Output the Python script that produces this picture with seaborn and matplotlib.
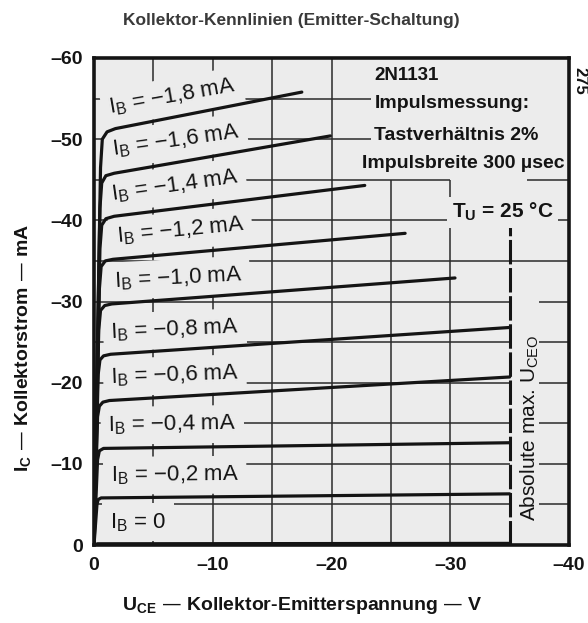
import pandas as pd
import seaborn as sns
import matplotlib.pyplot as plt

ib_labels = ['0', '−0,2', '−0,4', '−0,6', '−0,8', '−1,0', '−1,2', '−1,4', '−1,6', '−1,8']

u_00 = [0, -0.3, -35]
i_00 = [0, -0.15, -0.2]
u_02 = [0, -0.25, -0.35, -0.6, -35]
i_02 = [0, -5.0, -5.6, -5.8, -6.3]
u_04 = [0, -0.3, -0.45, -0.8, -35]
i_04 = [0, -10.5, -11.6, -11.9, -12.6]
u_06 = [0, -0.3, -0.45, -0.75, -1.3, -35]
i_06 = [0, -15.8, -17.1, -17.6, -17.8, -20.7]
u_08 = [0, -0.35, -0.5, -0.8, -1.4, -35]
i_08 = [0, -21.0, -22.8, -23.3, -23.5, -26.8]
u_10 = [0, -0.4, -0.55, -0.9, -1.5, -30.4]
i_10 = [0, -26.5, -28.9, -29.5, -29.7, -32.9]
u_12 = [0, -0.45, -0.6, -0.95, -1.6, -26.2]
i_12 = [0, -31.5, -34.3, -35.0, -35.2, -38.4]
u_14 = [0, -0.5, -0.65, -1.0, -1.7, -22.8]
i_14 = [0, -36.5, -39.4, -40.2, -40.5, -44.3]
u_16 = [0, -0.5, -0.65, -1.0, -1.7, -19.9]
i_16 = [0, -41.5, -44.6, -45.5, -45.8, -50.4]
u_18 = [0, -0.55, -0.7, -1.1, -1.8, -17.5]
i_18 = [0, -46.5, -50.0, -50.9, -51.3, -55.8]

u_curves = [u_00, u_02, u_04, u_06, u_08, u_10, u_12, u_14, u_16, u_18]
i_curves = [i_00, i_02, i_04, i_06, i_08, i_10, i_12, i_14, i_16, i_18]

x_ticks = [0, -10, -20, -30, -40]
y_ticks = [0, -10, -20, -30, -40, -50, -60]

frames = []
for lab, u, i in zip(ib_labels, u_curves, i_curves):
    frames.append(pd.DataFrame({'U': u, 'I': i, 'IB': lab}))
df = pd.concat(frames, ignore_index=True)

sns.set_theme(style='white')
plt.rcParams['font.family'] = ['Liberation Sans', 'DejaVu Sans']
plt.rcParams['mathtext.default'] = 'regular'

bg = '#ececec'
ink = '#141414'
gc = '#2a2a2a'
glw = 1.1

fig = plt.figure(figsize=(5.88, 6.23), dpi=100)
fig.patch.set_facecolor('white')
ax = fig.add_axes([94 / 588, 1 - 545 / 623, 475 / 588, 487 / 623])
ax.set_facecolor(bg)

# Raster (teilweise durch Beschriftung verdeckt)
for y in [-5, -10, -15, -20, -25, -30]:
    ax.hlines(y, 0, -35, color=gc, lw=glw, zorder=1)
    ax.hlines(y, -37.5, -40, color=gc, lw=glw, zorder=1)
ax.hlines([-35, -40], 0, -40, color=gc, lw=glw, zorder=1)
ax.hlines(-45, 0, -30, color=gc, lw=glw, zorder=1)
ax.hlines(-45, -36.5, -40, color=gc, lw=glw, zorder=1)
ax.hlines([-50, -55], 0, -23.3, color=gc, lw=glw, zorder=1)
ax.vlines([-5, -10, -15, -20], 0, -60, color=gc, lw=glw, zorder=1)
ax.vlines([-25, -30], 0, -45, color=gc, lw=glw, zorder=1)
ax.vlines(-35, 0, -39.5, color=ink, lw=2.2, linestyles=(0, (8, 1.2)), zorder=2)

sns.lineplot(data=df, x='U', y='I', units='IB', estimator=None, sort=False,
             color=ink, lw=2.3, ax=ax, zorder=4, solid_joinstyle='round')

# Kurvenbeschriftung: Mitte (V, mA) und Drehung
label_pos = [(-3.7, -2.8, 0), (-6.8, -8.6, 0.5), (-6.6, -14.8, 1), (-6.8, -20.9, 2),
             (-6.8, -26.5, 2.5), (-7.1, -32.9, 3), (-7.3, -38.7, 5.5), (-6.8, -44.3, 8),
             (-6.9, -49.8, 8), (-6.6, -55.2, 10)]
for lab, (x, y, rot) in zip(ib_labels, label_pos):
    ax.text(x, y, r'I$_{B}$ = ' + lab + ('' if lab == '0' else ' mA'),
            rotation=rot, rotation_mode='anchor', ha='center', va='center',
            fontsize=16, color=ink, zorder=3,
            bbox=dict(facecolor=bg, edgecolor='none', pad=5.5))

ax.text(-23.6, -57.9, '2N1131', ha='left', va='center', fontsize=13.5,
        fontweight='bold', color=ink)
ax.text(-23.6, -54.4, 'Impulsmessung:', ha='left', va='center', fontsize=14,
        fontweight='bold', color=ink)
ax.text(-23.6, -50.5, 'Tastverhältnis 2%', ha='left', va='center', fontsize=14,
        fontweight='bold', color=ink)
ax.text(-39.6, -47.0, 'Impulsbreite 300 µsec', ha='right', va='center', fontsize=14,
        fontweight='bold', color=ink)
ax.text(-34.4, -41.0, r'T$_{U}$ = 25 °C', ha='center', va='center', fontsize=15,
        fontweight='bold', color=ink, zorder=3,
        bbox=dict(facecolor=bg, edgecolor='none', pad=3))
ax.text(-36.7, -14.4, r'Absolute max. U$_{CEO}$', rotation=90, ha='center', va='center',
        fontsize=15, color=ink, zorder=3)

ax.set_xlim(0, -40)
ax.set_ylim(0, -60)
ax.set_xticks(x_ticks, labels=[str(v).replace('-', '–') for v in x_ticks],
              fontsize=14, fontweight='bold', color=ink)
ax.set_yticks(y_ticks, labels=[str(v).replace('-', '–') for v in y_ticks],
              fontsize=14, fontweight='bold', color=ink)
ax.tick_params(axis='both', length=0)
ax.tick_params(axis='y', pad=8)
ax.tick_params(axis='x', pad=9)
ax.set_xlabel('')
ax.set_ylabel('')
for s in ax.spines.values():
    s.set_visible(True)
    s.set_color(ink)
    s.set_linewidth(2.6)

fig.text(291 / 588, 1 - 20 / 623, 'Kollektor-Kennlinien (Emitter-Schaltung)',
         ha='center', va='center', fontsize=12.5, fontweight='bold', color='#3a3a3a')
fig.text(23.5 / 588, 1 - 348 / 623, r'I$_{C}$ — Kollektorstrom — mA', rotation=90,
         ha='center', va='center', fontsize=14, fontweight='bold', color=ink)
fig.text(302 / 588, 1 - 605 / 623, r'U$_{CE}$ — Kollektor-Emitterspannung — V',
         ha='center', va='center', fontsize=14, fontweight='bold', color=ink)
fig.text(580 / 588, 1 - 81 / 623, '275', rotation=-90, ha='center', va='center',
         fontsize=12, fontweight='bold', color=ink)

fig.savefig('out.png', dpi=100)
